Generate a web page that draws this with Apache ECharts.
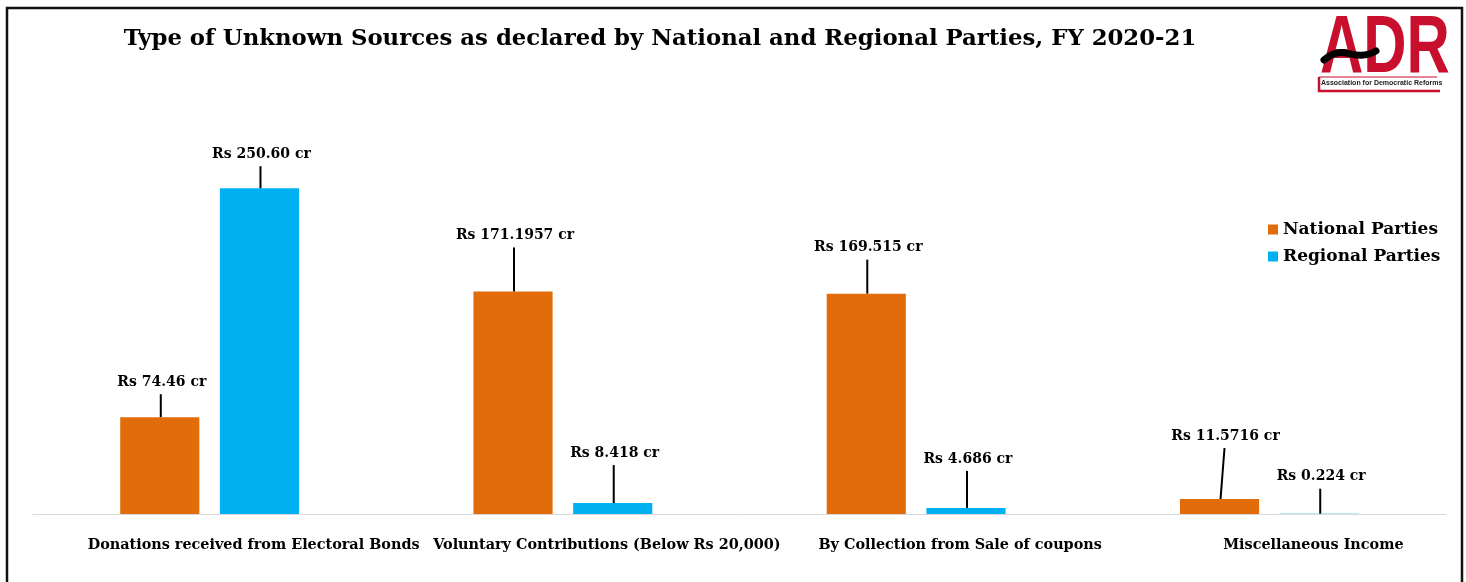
<!DOCTYPE html>
<html>
<head>
<meta charset="utf-8">
<script src="https://cdn.jsdelivr.net/npm/echarts@6/dist/echarts.min.js"></script>
<style>
html,body{margin:0;padding:0;background:#fff;}
#chart{width:1466px;height:582px;}
</style>
</head>
<body>
<div id="chart"></div>
<script>
const categories = [
  'Donations received from Electoral Bonds',
  'Voluntary Contributions (Below Rs 20,000)',
  'By Collection from Sale of coupons',
  'Miscellaneous Income'
];
const nationalValues = [74.46, 171.1957, 169.515, 11.5716];
const regionalValues = [250.60, 8.418, 4.686, 0.224];
const nationalLabels = ['Rs 74.46 cr', 'Rs 171.1957 cr', 'Rs 169.515 cr', 'Rs 11.5716 cr'];
const regionalLabels = ['Rs 250.60 cr', 'Rs 8.418 cr', 'Rs 4.686 cr', 'Rs 0.224 cr'];
const seriesNames = ['National Parties', 'Regional Parties'];
const titleText = 'Type of Unknown Sources as declared by National and Regional Parties, FY 2020-21';

// styling: leader line lengths (px) per series/category
const leaderLen = [[23, 44, 34, 51], [22, 38, 37, 25]];
const COLORS = ['#E36C0A', '#00B0F0'];
const SERIF = '"DejaVu Serif", "Liberation Serif", serif';
const BAR_W = 0.224, BAR_GAP = 0.26;
const RED = '#C8102E';

const chart = echarts.init(document.getElementById('chart'));

const labelData = [];
nationalValues.forEach((v, i) => labelData.push([i, v, 0, nationalLabels[i]]));
regionalValues.forEach((v, i) => labelData.push([i, v, 1, regionalLabels[i]]));

function renderLabel(params, api) {
  const i = api.value(0), v = api.value(1), s = api.value(2);
  const text = labelData[params.dataIndex][3];
  const band = api.size([1, 0])[0];
  const p = api.coord([i, v]);
  const off = (BAR_W * band * (1 + BAR_GAP)) / 2;
  const x = p[0] + (s === 0 ? -off : off) + 1;
  const len = leaderLen[s][i];
  const y0 = p[1];
  const y1 = y0 - len;
  const slant = (s === 0 && i === 3) ? 4 : 0;
  return {
    type: 'group',
    children: [
      { type: 'line', shape: { x1: x, y1: y0, x2: x + slant, y2: y1 },
        style: { stroke: '#000', lineWidth: 2 } },
      { type: 'text', x: x + slant + 1, y: y1 - 5,
        style: { text: text, fill: '#000', font: 'bold 14px ' + SERIF,
                 textAlign: 'center', textVerticalAlign: 'bottom' } }
    ]
  };
}

const option = {
  backgroundColor: '#fff',
  animation: false,
  title: {
    text: titleText,
    left: 655, top: 23, textAlign: 'center',
    textStyle: { fontFamily: SERIF, fontWeight: 'bold', fontSize: 22.8, color: '#000' }
  },
  legend: {
    data: seriesNames,
    orient: 'vertical',
    left: 1268, top: 221, padding: 0,
    icon: 'rect', itemWidth: 10, itemHeight: 10, itemGap: 10,
    textStyle: { fontFamily: SERIF, fontWeight: 'bold', fontSize: 17, color: '#000', lineHeight: 17 }
  },
  grid: { left: 33, right: 20, top: 124, bottom: 68, containLabel: false },
  xAxis: {
    type: 'category',
    data: categories,
    axisLine: { lineStyle: { color: '#d9d9d9', width: 1 } },
    axisTick: { show: false },
    axisLabel: { interval: 0, margin: 24, color: '#000', fontFamily: SERIF, fontWeight: 'bold', fontSize: 14.4,
                 padding: [0, 0, 0, 88] }
  },
  yAxis: { type: 'value', min: 0, max: 300, show: false, splitLine: { show: false } },
  series: [
    { name: seriesNames[0], type: 'bar', data: nationalValues, barWidth: (BAR_W * 100) + '%', barGap: (BAR_GAP * 100) + '%',
      itemStyle: { color: COLORS[0] } },
    { name: seriesNames[1], type: 'bar', data: regionalValues, barWidth: (BAR_W * 100) + '%', barGap: (BAR_GAP * 100) + '%',
      itemStyle: { color: COLORS[1] } },
    { name: 'labels', type: 'custom', data: labelData, renderItem: renderLabel, z: 5, silent: true,
      encode: { x: 0, y: 1 } }
  ],
  color: COLORS,
  graphic: [
    { type: 'rect', shape: { x: 7, y: 8, width: 1455, height: 600 }, style: { fill: 'none', stroke: '#111', lineWidth: 2.5 }, z: 10 },
    { type: 'group', x: 0, y: 0, z: 10, children: [
      { type: 'text', x: 1320, y: 9, scaleX: 0.74, scaleY: 1,
        style: { text: 'ADR', font: 'bold 81px "Liberation Sans", Arial, sans-serif', fill: RED, textVerticalAlign: 'top' } },
      { type: 'polyline', shape: { points: [[1319, 77], [1319, 91], [1440, 91]] },
        style: { stroke: RED, lineWidth: 2.5, fill: 'none' } },
      { type: 'line', shape: { x1: 1319, y1: 77, x2: 1437, y2: 77 }, style: { stroke: RED, lineWidth: 1 } },
      { type: 'bezierCurve', shape: { x1: 1324, y1: 60, cpx1: 1345, cpy1: 42, cpx2: 1352, cpy2: 64, x2: 1376, y2: 51 },
        style: { stroke: '#000', lineWidth: 7, fill: 'none', lineCap: 'round' } },
      { type: 'text', x: 1321, y: 80,
        style: { text: 'Association for Democratic Reforms', font: 'bold 7px "Liberation Sans", Arial, sans-serif', fill: '#222', textVerticalAlign: 'top' } }
    ] }
  ]
};
chart.setOption(option);
</script>
</body>
</html>
